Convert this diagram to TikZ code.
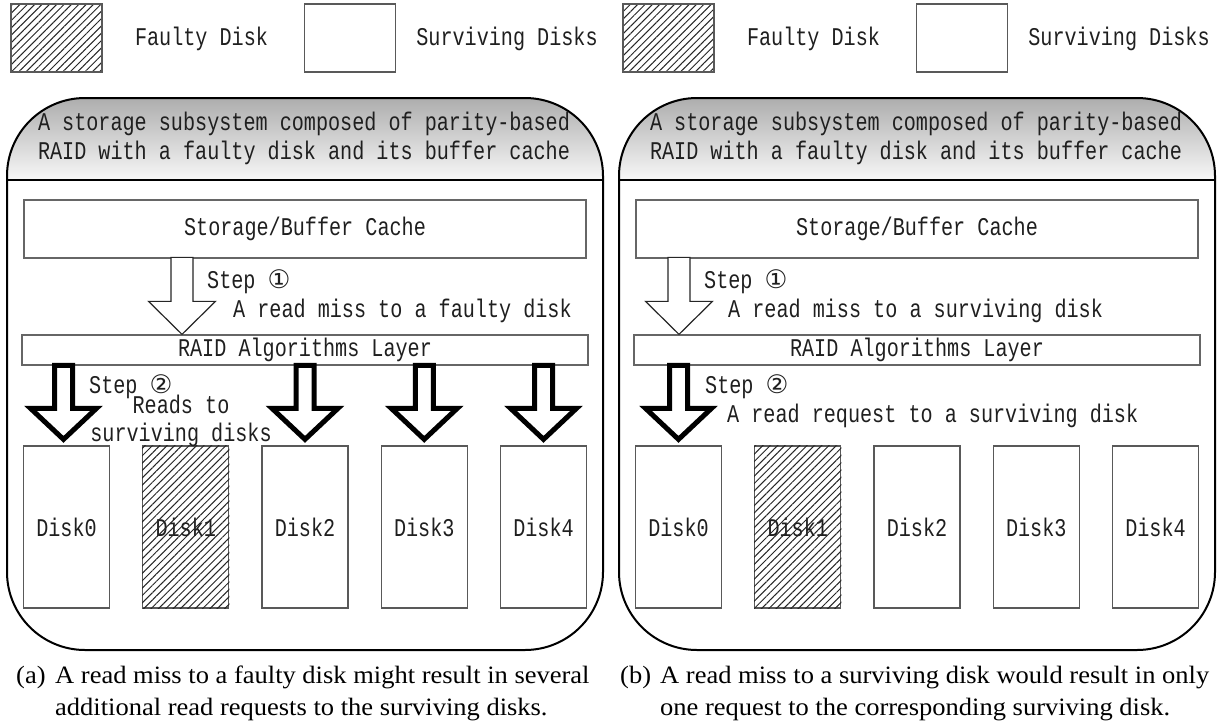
\documentclass[tikz,border=0pt]{standalone}
\usepackage{fontspec}
\setmainfont{Liberation Serif}
\newfontfamily\capfont{Liberation Serif}[FakeStretch=1.06]
\newfontfamily\dmono{Liberation Mono}[FakeStretch=0.79]
\newfontfamily\dsym{DejaVu Sans}
\usetikzlibrary{patterns.meta,calc}

\tikzset{
  mtext/.style={font=\dmono\fontsize{25.5}{29}\selectfont, text=black!88, inner sep=0pt},
  diskbox/.style={draw=black!65, line width=1.3pt, minimum width=86pt, minimum height=162pt, inner sep=0pt, mtext},
  legbox/.style={draw=black!65, line width=1.3pt, minimum width=91pt, minimum height=68pt, inner sep=0pt},
  hatch/.style={pattern={Lines[angle=45,distance=5.2pt,line width=1pt]}, pattern color=black!85},
  layerbox/.style={draw=black!60, line width=1.3pt, inner sep=0pt, mtext},
  frame/.style={draw=black, line width=2pt, rounded corners=78pt, inner sep=0pt},
  hollowarrow/.style={draw=black!85, line width=1.2pt, fill=white, line join=miter},
  fatarrowstyle/.style={draw=black, line width=5pt, fill=white, line join=miter},
  captext/.style={font=\capfont\fontsize{25}{29}\selectfont, inner sep=0pt, anchor=base west},
  fatarrow/.pic={\draw[fatarrowstyle] (-9,-80) -- (9,-80) -- (9,-37) -- (33,-37) -- (0,-6) -- (-33,-37) -- (-9,-37) -- cycle;},
  thinarrow/.pic={\draw[hollowarrow] (-11,-77) -- (11,-77) -- (11,-33) -- (33.5,-33) -- (0,0) -- (-33.5,-33) -- (-11,-33) -- cycle;},
}

\newcommand\drawpanel[1]{%
  % legend
  \node[legbox, hatch] (#1-legf) at (56.5,38) {};
  \node[mtext, anchor=base] (#1-legft) at (201.5,45) {Faulty Disk};
  \node[legbox] (#1-legs) at (350,38) {};
  \node[mtext, anchor=base] (#1-legst) at (507,45) {Surviving Disks};
  % frame with shaded header
  \begin{scope}
    \clip[rounded corners=78pt] (7,98) rectangle (603,650);
    \shade[top color=black!32, bottom color=black!3] (7,98) rectangle (603,180);
  \end{scope}
  \node[frame, minimum width=596pt, minimum height=552pt] (#1-frame) at (305,374) {};
  \draw[line width=2pt] (#1-frame.west |- 0,180) -- (#1-frame.east |- 0,180);
  \node[mtext, align=center, anchor=base] (#1-head) at (304,159)
    {A storage subsystem composed of parity-based\\RAID with a faulty disk and its buffer cache};
  % layers
  \node[layerbox, minimum width=562pt, minimum height=58pt] (#1-cache) at (305,229) {Storage/Buffer Cache};
  \node[layerbox, minimum width=566pt, minimum height=30pt] (#1-raid) at (305,350) {RAID Algorithms Layer};
  % disks
  \foreach \i in {0,...,4} {\node[diskbox] (#1-d\i) at ({66.5+119.25*\i},527) {Disk\i};}
  \fill[hatch] (#1-d1.south west) rectangle (#1-d1.north east);
}

\begin{document}
\begin{tikzpicture}[x=1pt,y=-1pt]
\useasboundingbox (0,0) rectangle (1224,723);

% ---------------- panel (a)
\drawpanel{a}
\pic at (182,0 |- a-raid.north) {thinarrow};
\pic at ($(a-d0.north)+(-3,0)$) {fatarrow};
\pic at (a-d2.north) {fatarrow};
\pic at (a-d3.north) {fatarrow};
\pic at (a-d4.north) {fatarrow};
\node[mtext, anchor=base west] (a-s1) at (207,288) {Step {\dsym ①}};
\node[mtext, anchor=base west] (a-s1t) at (233,317) {A read miss to a faulty disk};
\node[mtext, anchor=base west] (a-s2) at (89,393) {Step {\dsym ②}};
\node[mtext, align=center, anchor=base, font=\dmono\fontsize{25.5}{28}\selectfont] (a-s2t) at (181,441) {Reads to\\surviving disks};
\node[captext] (a-cl) at (16,683) {(a)};
\node[captext] (a-c1) at (55,683) {A read miss to a faulty disk might result in several};
\node[captext] (a-c2) at (55,715) {additional read requests to the surviving disks.};

% ---------------- panel (b)
\begin{scope}[xshift=612pt]
\drawpanel{b}
\pic at (67,0 |- b-raid.north) {thinarrow};
\pic at (b-d0.north) {fatarrow};
\node[mtext, anchor=base west] (b-s1) at (92,288) {Step {\dsym ①}};
\node[mtext, anchor=base west] (b-s1t) at (116,317) {A read miss to a surviving disk};
\node[mtext, anchor=base west] (b-s2) at (93,393) {Step {\dsym ②}};
\node[mtext, anchor=base west] (b-s2t) at (115,422) {A read request to a surviving disk};
\node[captext] (b-cl) at (8,683) {(b)};
\node[captext] (b-c1) at (48,683) {A read miss to a surviving disk would result in only};
\node[captext] (b-c2) at (48,715) {one request to the corresponding surviving disk.};
\end{scope}
\end{tikzpicture}
\end{document}
